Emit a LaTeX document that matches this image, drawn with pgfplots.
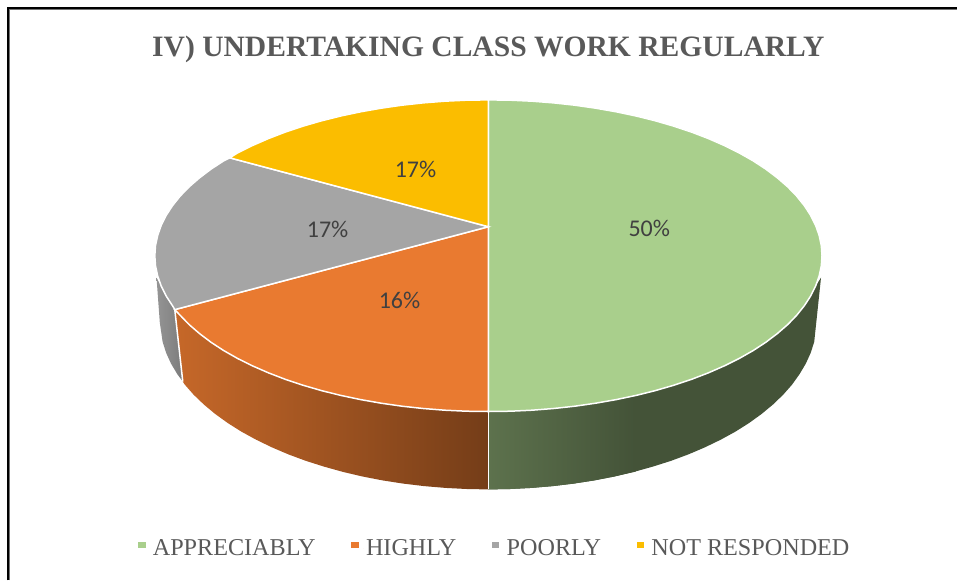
\documentclass[border=0pt]{standalone}
\usepackage{pgfplots}
\pgfplotsset{compat=1.18}
\usepackage{fontspec}
\setmainfont{Liberation Serif}
\newfontfamily\lab{Carlito}
\definecolor{cgreen}{HTML}{A9CF8C}
\definecolor{corange}{HTML}{E97A30}
\definecolor{cgrey}{HTML}{A5A5A5}
\definecolor{cyellow}{HTML}{FBBD00}
\definecolor{txt}{HTML}{595959}
\begin{document}
\begin{tikzpicture}
\begin{axis}[
  scale only axis, width=958pt, height=581pt,
  xmin=0, xmax=958, ymin=0, ymax=581, y dir=reverse,
  hide axis, clip=false,
  legend image code/.code={\fill[#1,draw=none] (0pt,-1pt) rectangle (7.5pt,6.5pt);\path (0pt,0pt) -- (12pt,0pt);},
  legend columns=4,
  legend style={draw=none, fill=none, at={(axis cs:137.5,549)}, anchor=west,
    font=\fontsize{24.2}{26}\selectfont, text=txt, inner sep=0pt, outer sep=0pt,
    /tikz/every even column/.append style={column sep=33pt}},
]
% extent of the page
\addplot[draw=none, forget plot] coordinates {(0,0) (958,581)};
% frame: left and top only
\addplot[black!55, line width=0.8pt, forget plot] coordinates {(9.7,581) (9.7,9.7) (958,9.7)};
\addplot[black, line width=2.3pt, forget plot] coordinates {(8.2,581) (8.2,8) (958,8)};
% side: green, solid
\addplot[fill=cgreen!40!black, draw=none, forget plot] coordinates {
(489,412) (510.8,411.7) (532.6,410.7) (554.2,409) (575.4,406.7) (596.3,403.7) (616.8,400.1) (636.7,395.9) (656,391.1) (674.6,385.7) (692.3,379.8) (709.2,373.3) (725.2,366.3) (740.1,358.9) (754,351) (766.7,342.7) (778.2,334) (788.6,325) (797.6,315.7) (805.3,306.1) (811.6,296.4) (816.6,286.4) (822,278)
(815.2,342.2) (811.7,353.2) (806.8,364) (800.5,374.6) (793,385.1) (784.1,395.2) (773.9,405) (762.6,414.4) (750,423.5) (736.4,432.1) (721.6,440.2) (705.9,447.8) (689.3,454.9) (671.8,461.4) (653.5,467.2) (634.5,472.5) (614.9,477.1) (594.8,481) (574.1,484.2) (553.2,486.7) (531.9,488.5) (510.5,489.6) (489,490)} -- cycle;
% side: green, shaded part
\addplot[left color=cgreen!55!black, right color=cgreen!40!black, draw=none, forget plot] coordinates {
(489,412) (510.8,411.7) (532.6,410.7) (554.2,409) (575.4,406.7) (596.3,403.7) (616.8,400.1) (636.7,395.9) (636.7,472) (614.9,477.1) (594.8,481) (574.1,484.2) (553.2,486.7) (531.9,488.5) (510.5,489.6) (489,490)} -- cycle;
% side: orange
\addplot[left color=corange!85!black, right color=corange!50!black, draw=none, forget plot] coordinates {
(489,412) (467.2,411.7) (445.4,410.7) (423.8,409) (402.6,406.7) (381.7,403.7) (361.2,400.1) (341.3,395.9) (322,391.1) (303.4,385.7) (285.7,379.8) (268.8,373.3) (252.8,366.3) (237.9,358.9) (224,351) (211.3,342.7) (199.8,334) (189.4,325) (180.4,315.7) (175,310)
(183,382) (185,385.1) (193.9,395.2) (204.1,405) (215.4,414.4) (228,423.5) (241.6,432.1) (256.4,440.2) (272.1,447.8) (288.7,454.9) (306.2,461.4) (324.5,467.2) (343.5,472.5) (363.1,477.1) (383.2,481) (403.9,484.2) (424.8,486.7) (446.1,488.5) (467.5,489.6) (489,490)} -- cycle;
% side: grey
\addplot[left color=cgrey!90!black, right color=cgrey!75!black, draw=none, forget plot] coordinates {
(175,310) (172.7,306.1) (166.4,296.4) (161.4,286.4) (156.7,278) (160,323) (162.8,342.2) (166.3,353.2) (171.2,364) (177.5,374.6) (183,382)} -- cycle;
% white seams on the side
\addplot[white, line width=1.5pt, forget plot] coordinates {(489,412) (489,490)};
\addplot[white, line width=1.5pt, forget plot] coordinates {(175,310) (183,382)};
% top face
\addplot[fill=cgreen, draw=white, line width=1.5pt] coordinates {
(489,100) (510.8,100.3) (532.6,101.3) (554.2,103) (575.4,105.3) (596.3,108.3) (616.8,111.9) (636.7,116.1) (656,120.9) (674.6,126.3) (692.3,132.2) (709.2,138.7) (725.2,145.7) (740.1,153.1) (754,161) (766.7,169.3) (778.2,178) (788.6,187) (797.6,196.3) (805.3,205.9) (811.6,215.6) (816.6,225.6) (820.1,235.6) (822.3,245.8) (823,256)
(822.3,266.2) (820.1,276.4) (816.6,286.4) (811.6,296.4) (805.3,306.1) (797.6,315.7) (788.6,325) (778.2,334) (766.7,342.7) (754,351) (740.1,358.9) (725.2,366.3) (709.2,373.3) (692.3,379.8) (674.6,385.7) (656,391.1) (636.7,395.9) (616.8,400.1) (596.3,403.7) (575.4,406.7) (554.2,409) (532.6,410.7) (510.8,411.7) (489,412)} -- cycle;
\addlegendentry{APPRECIABLY}
\addplot[fill=corange, draw=white, line width=1.5pt] coordinates {
(489,227) (489,412) (467.2,411.7) (445.4,410.7) (423.8,409) (402.6,406.7) (381.7,403.7) (361.2,400.1) (341.3,395.9) (322,391.1) (303.4,385.7) (285.7,379.8) (268.8,373.3) (252.8,366.3) (237.9,358.9) (224,351) (211.3,342.7) (199.8,334) (189.4,325) (180.4,315.7) (175,310)} -- cycle;
\addlegendentry{HIGHLY}
\addplot[fill=cgrey, draw=white, line width=1.5pt] coordinates {
(489,227) (175,310) (172.7,306.1) (166.4,296.4) (161.4,286.4) (157.9,276.4) (155.7,266.2) (155,256) (155.7,245.8) (157.9,235.6) (161.4,225.6) (166.4,215.6) (172.7,205.9) (180.4,196.3) (189.4,187) (199.8,178) (211.3,169.3) (224,161) (230,158)} -- cycle;
\addlegendentry{POORLY}
\addplot[fill=cyellow, draw=white, line width=1.5pt] coordinates {
(489,227) (230,158) (237.9,153.1) (252.8,145.7) (268.8,138.7) (285.7,132.2) (303.4,126.3) (322,120.9) (341.3,116.1) (361.2,111.9) (381.7,108.3) (402.6,105.3) (423.8,103) (445.4,101.3) (467.2,100.3) (489,100)} -- cycle;
\addlegendentry{NOT RESPONDED}
% texts
\node[text=txt, font=\fontsize{29.6}{31}\selectfont\bfseries] at (axis cs:489,49) {IV) UNDERTAKING CLASS WORK REGULARLY};
\node[text=black!75, font=\lab\fontsize{24}{26}\selectfont] at (axis cs:650,229) {50\%};
\node[text=black!75, font=\lab\fontsize{24}{26}\selectfont] at (axis cs:400,301) {16\%};
\node[text=black!75, font=\lab\fontsize{24}{26}\selectfont] at (axis cs:328,230) {17\%};
\node[text=black!75, font=\lab\fontsize{24}{26}\selectfont] at (axis cs:416,170) {17\%};
\end{axis}
\end{tikzpicture}
\end{document}
